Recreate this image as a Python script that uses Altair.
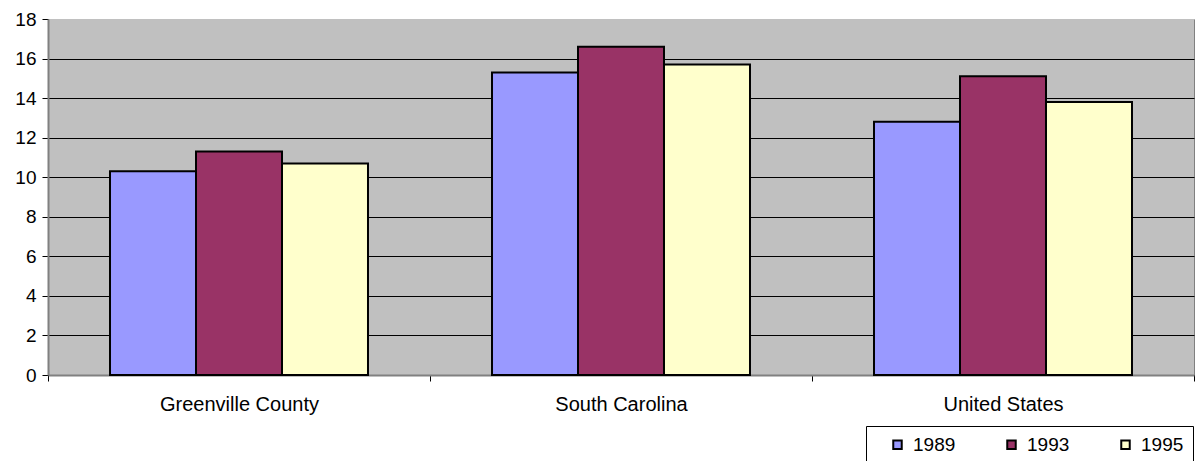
import altair as alt
import pandas as pd

categories = ["Greenville County", "South Carolina", "United States"]
years = ["1989", "1993", "1995"]
v1989 = [10.3, 15.3, 12.8]
v1993 = [11.3, 16.6, 15.1]
v1995 = [10.7, 15.7, 13.8]
colors = ["#9999FF", "#993366", "#FFFFCC"]

rows = []
for i, c in enumerate(categories):
    for y, vals in zip(years, [v1989, v1993, v1995]):
        rows.append({"region": c, "year": y, "value": vals[i]})
df = pd.DataFrame(rows)

font = "Liberation Sans"

chart = alt.Chart(df).mark_bar(stroke="black", strokeWidth=2).encode(
    x=alt.X("region:N", sort=categories, title=None,
            scale=alt.Scale(paddingInner=0, paddingOuter=0),
            axis=alt.Axis(labelAngle=0, labelFontSize=20, labelFont=font, labelColor="black",
                          tickBand="extent", tickColor="black", tickSize=6,
                          domainColor="#808080", domainWidth=2, labelPadding=13)),
    xOffset=alt.XOffset("year:N", sort=years,
                        scale=alt.Scale(paddingInner=0, paddingOuter=0.721)),
    y=alt.Y("value:Q", title=None,
            scale=alt.Scale(domain=[0, 18], nice=False),
            axis=alt.Axis(values=list(range(0, 19, 2)), labelFontSize=19, labelFont=font,
                          labelColor="black", tickColor="black", tickSize=6,
                          gridColor=alt.condition("datum.value >= 18", alt.value("#C0C0C0"), alt.value("black")),
                          gridWidth=1, gridOpacity=1,
                          domainColor="#808080", domainWidth=2, labelPadding=6)),
    fill=alt.Fill("year:N", sort=years,
                  scale=alt.Scale(domain=years, range=colors),
                  legend=alt.Legend(title=None, orient="none", legendX=818, legendY=407,
                                    direction="horizontal", columns=3, columnPadding=33,
                                    symbolType="square", symbolSize=72, symbolStrokeColor="black",
                                    symbolStrokeWidth=2, labelFontSize=19, labelFont=font,
                                    labelColor="black", strokeColor="black", padding=9,
                                    fillColor="white", symbolOffset=13, labelOffset=6)),
).properties(
    width=1146, height=356,
    padding={"left": 48, "top": 19, "right": 2, "bottom": 86},
    autosize=alt.AutoSizeParams(type="none"),
    background="white",
).configure_view(fill="#C0C0C0", stroke="#808080", strokeWidth=1)

chart.save("out.html", embed_options={"renderer": "svg", "actions": False})
